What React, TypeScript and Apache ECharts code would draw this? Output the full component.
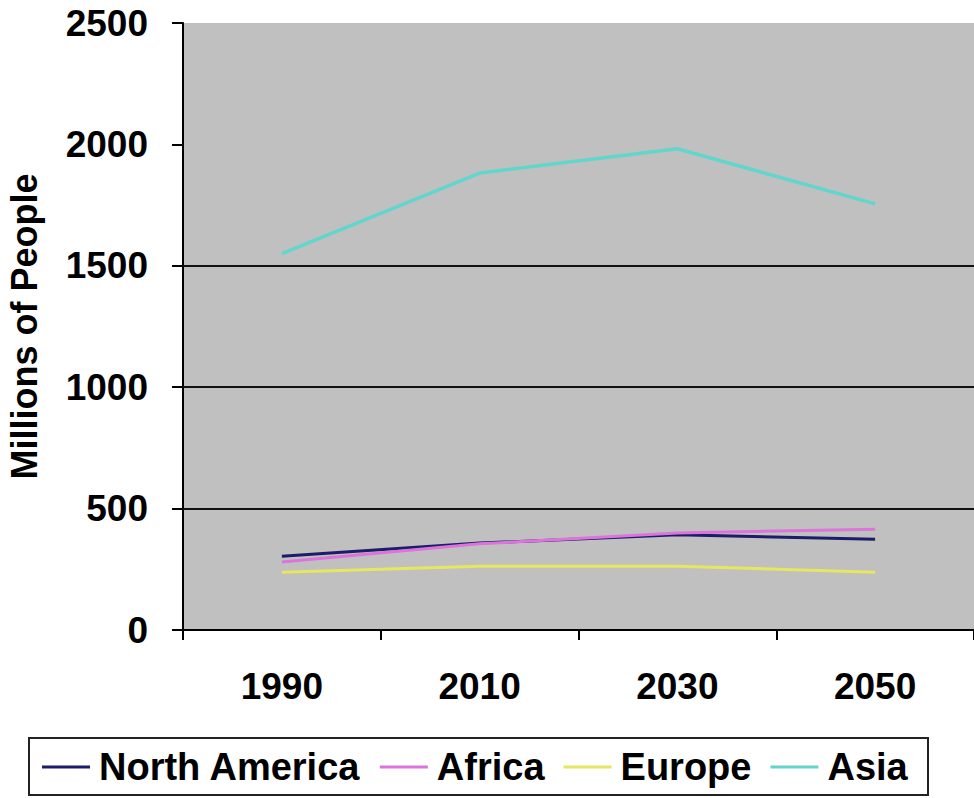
import React, { useEffect, useRef } from "react";
import * as echarts from "echarts";

const years = ["1990", "2010", "2030", "2050"];
const northAmerica = [304, 358, 392, 374];
const africa = [280, 355, 400, 415];
const europe = [238, 263, 263, 238];
const asia = [1550, 1882, 1982, 1755];
const gridValues = [500, 1000, 1500];
const seriesNames = ["North America", "Africa", "Europe", "Asia"];
const seriesColors = ["#1c1c6a", "#dc74dc", "#e6e660", "#62d6cc"];

const FONT = '"Liberation Sans", Arial, sans-serif';

export default function App() {
  const ref = useRef<HTMLDivElement>(null);
  useEffect(() => {
    if (!ref.current) return;
    const chart = echarts.init(ref.current, null, { renderer: "svg" });
    const dataSets = [northAmerica, africa, europe, asia];
    const series: any[] = dataSets.map((d, i) => ({
      name: seriesNames[i],
      type: "line",
      data: d,
      symbol: "none",
      lineStyle: { color: seriesColors[i], width: i === 3 ? 3.5 : 3 },
      itemStyle: { color: seriesColors[i] },
      z: 5,
    }));
    series[3].markLine = {
      silent: true,
      symbol: "none",
      label: { show: false },
      lineStyle: { color: "#111", width: 2, type: "solid" },
      data: gridValues.map((v) => ({ yAxis: v })),
      z: 3,
    };
    chart.setOption({
      animation: false,
      backgroundColor: "#ffffff",
      textStyle: { fontFamily: FONT },
      grid: {
        left: 183,
        right: 0,
        top: 23,
        bottom: 168,
        containLabel: false,
        outerBoundsMode: "none",
        show: true,
        backgroundColor: "#c0c0c0",
        borderWidth: 0,
      },
      graphic: [
        {
          type: "rect",
          shape: { x: 29, y: 738, width: 899, height: 57 },
          style: { fill: "none", stroke: "#222", lineWidth: 2 },
          z: 10,
        },
      ],
      legend: {
        left: 42,
        top: 748,
        padding: 0,
        itemWidth: 48,
        itemHeight: 3,
        itemGap: 19,
        icon: "rect",
        data: seriesNames,
        textStyle: {
          fontFamily: FONT,
          fontWeight: "bold",
          fontSize: 38,
          color: "#000",
          padding: [0, 0, 0, 4],
        },
      },
      xAxis: {
        type: "category",
        data: years,
        boundaryGap: true,
        axisLine: { lineStyle: { color: "#000", width: 2 } },
        axisTick: { show: true, length: 10, lineStyle: { color: "#000", width: 2 } },
        axisLabel: {
          fontFamily: FONT,
          fontWeight: "bold",
          fontSize: 37,
          color: "#000",
          margin: 38,
        },
        splitLine: { show: false },
      },
      yAxis: {
        type: "value",
        min: 0,
        max: 2500,
        interval: 500,
        name: "Millions of People",
        nameLocation: "middle",
        nameRotate: 90,
        nameGap: 141,
        nameTextStyle: {
          fontFamily: FONT,
          fontWeight: "bold",
          fontSize: 36,
          color: "#000",
        },
        axisLine: { show: true, lineStyle: { color: "#000", width: 2 } },
        axisTick: { show: true, length: 11, lineStyle: { color: "#000", width: 2 } },
        axisLabel: {
          fontFamily: FONT,
          fontWeight: "bold",
          fontSize: 37,
          color: "#000",
          margin: 35,
          formatter: (v: number) => String(v),
        },
        splitLine: { show: false },
      },
      series,
    });
    return () => chart.dispose();
  }, []);
  return (
    <div
      ref={ref}
      style={{ position: "fixed", left: 0, top: 0, width: 974, height: 798 }}
    />
  );
}
